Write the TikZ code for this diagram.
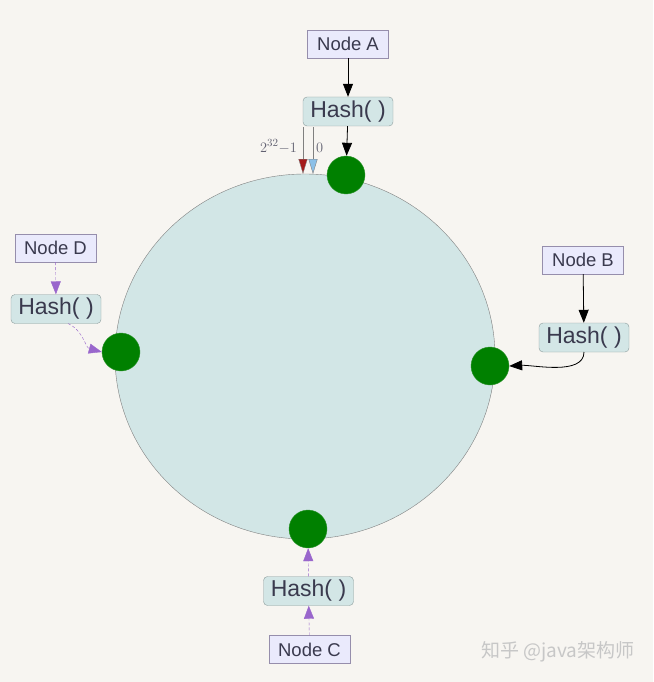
\documentclass[tikz,border=0pt]{standalone}
\usepackage{fontspec}
\setmainfont{Liberation Sans}
\newfontfamily\cjkfont{Noto Sans CJK SC}
\usetikzlibrary{arrows.meta,shapes.geometric,positioning}

\definecolor{bgcol}{RGB}{247,245,241}
\definecolor{keyfill}{RGB}{234,234,252}
\definecolor{keyline}{RGB}{150,142,172}
\definecolor{hashfill}{RGB}{211,230,230}
\definecolor{hashline}{RGB}{140,156,156}
\definecolor{ringfill}{RGB}{210,230,230}
\definecolor{ringline}{RGB}{128,128,128}
\definecolor{dotfill}{RGB}{0,128,0}
\definecolor{dotline}{RGB}{50,150,50}
\definecolor{txtcol}{RGB}{58,58,78}
\definecolor{purp}{RGB}{153,102,204}
\definecolor{maxred}{RGB}{165,26,26}
\definecolor{zeroblue}{RGB}{140,192,232}

\begin{document}
\begin{tikzpicture}[x=1pt,y=-1pt,
    key_node/.style={draw=keyline,fill=keyfill,text=txtcol,minimum width=81pt,minimum height=28pt,inner sep=1pt,font=\fontsize{18.5}{20}\selectfont},
    hash_node/.style={draw=hashline,fill=hashfill,text=txtcol,rounded corners=4pt,minimum width=90pt,minimum height=29pt,inner sep=1pt,font=\fontsize{23}{24}\selectfont},
    ring_dot/.style={circle,draw=dotline,fill=dotfill,minimum size=38pt,inner sep=0pt},
    solid_arrow/.style={-{Triangle[length=13pt,width=10pt]},black,thick},
    soft_arrow/.style={-{Triangle[length=13pt,width=10pt]},purp,densely dashed,thin}]

    \useasboundingbox (0,0) rectangle (653,682);
    \fill[bgcol] (0,0) rectangle (653,682);

    \node[ellipse,draw=ringline,fill=ringfill,minimum width=380pt,minimum height=365pt,inner sep=0pt] (ring) at (305,356.5) {};

    \node[ring_dot] (dA) at (346,175) {};
    \node[ring_dot] (dB) at (490,366) {};
    \node[ring_dot] (dC) at (308,529) {};
    \node[ring_dot] (dD) at (121,352) {};

    \node[key_node] (A) at (348,44) {Node A};
    \node[hash_node] (hA) at (348,111.5) {Hash( )};
    \node[key_node] (B) at (583,260) {Node B};
    \node[hash_node] (hB) at (584,337.5) {Hash( )};
    \node[hash_node] (hC) at (308.5,591) {Hash( )};
    \node[key_node] (C) at (309.5,649.5) {Node C};
    \node[key_node] (D) at (55.5,248) {Node D};
    \node[hash_node] (hD) at (56,309) {Hash( )};

    \coordinate (maxTop) at (303,127);
    \coordinate (maxEnd) at (303,174);
    \coordinate (zeroTop) at (313,127);
    \coordinate (zeroEnd) at (313,174);
    \coordinate (hDout) at (68,323.5);
    \coordinate (hBout) at (584,352);
    \node[anchor=base east,text=txtcol!80,inner sep=0pt,font=\fontsize{15}{16}\selectfont] (maxLbl) at (297,152) {$2^{32}{-}1$};
    \node[anchor=base west,text=txtcol!80,inner sep=0pt,font=\fontsize{15}{16}\selectfont] (zeroLbl) at (316,152) {$0$};

    \draw[solid_arrow] (A) -- (hA);
    \draw[solid_arrow] (hA) -- (dA);
    \draw[solid_arrow] (B) -- (hB);
    \draw[solid_arrow] (hBout) to[out=-90,in=3,looseness=0.8] (dB.east);

    \draw[soft_arrow] (D) -- (hD);
    \draw[soft_arrow] (hDout) to[out=-25,in=165,looseness=1] (dD.west);
    \draw[soft_arrow] (C) -- (hC);
    \draw[soft_arrow] (hC) -- (dC);

    \draw[gray,thin,-{Triangle[length=15pt,width=9pt,fill=maxred]}] (maxTop) -- (maxEnd);
    \draw[gray,thin,-{Triangle[length=15pt,width=9pt,fill=zeroblue]}] (zeroTop) -- (zeroEnd);

    \node[text=black!22,font=\cjkfont\fontsize{19}{20}\selectfont] (mark) at (558,652) {知乎 @java架构师};
\end{tikzpicture}
\end{document}
